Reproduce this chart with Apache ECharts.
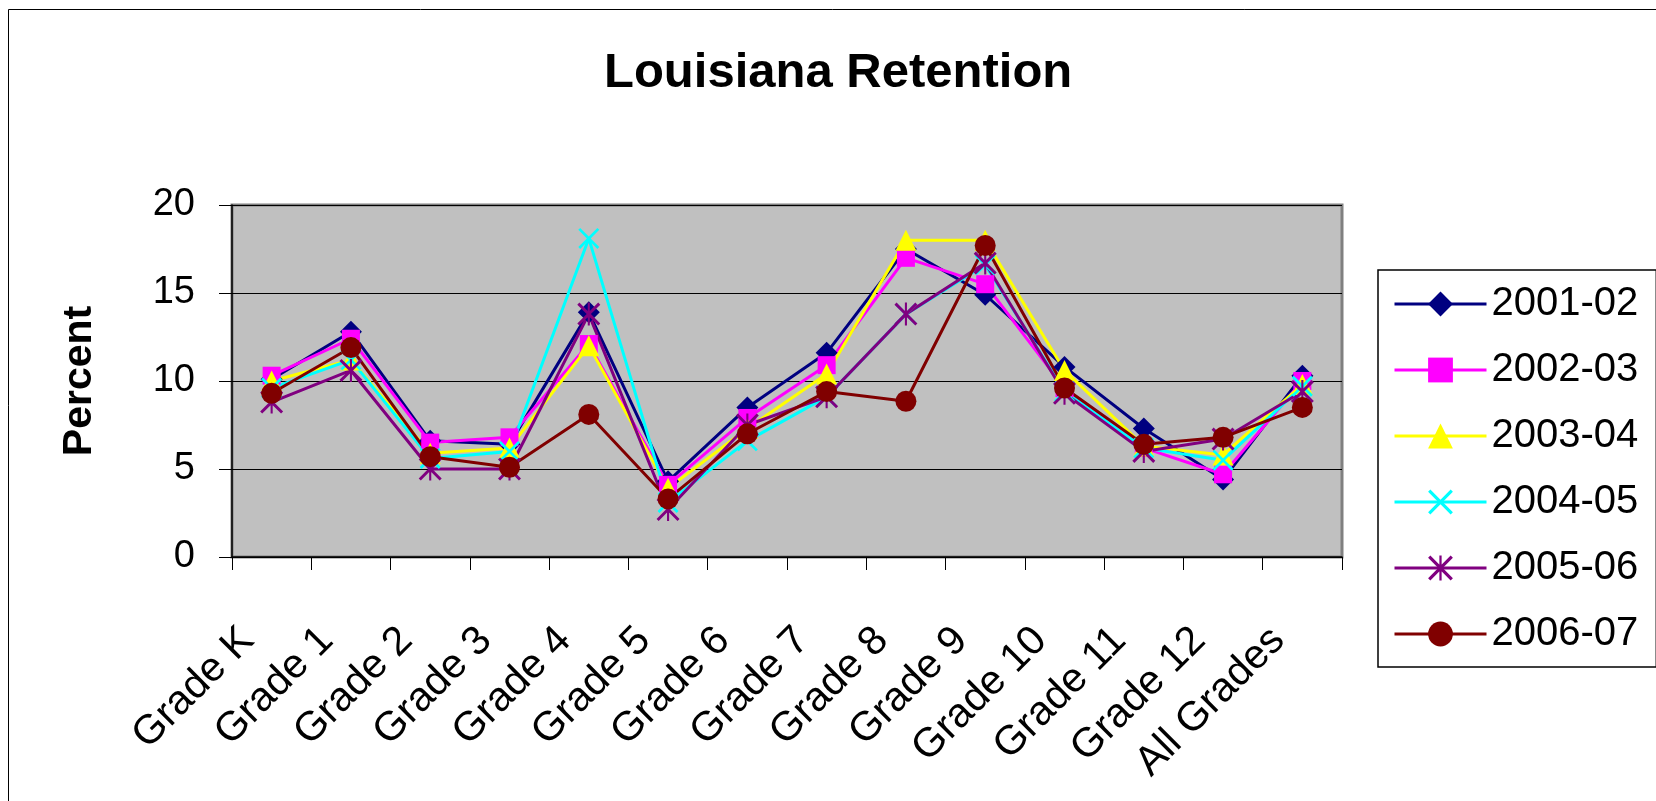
<!DOCTYPE html>
<html>
<head>
<meta charset="utf-8">
<title>Louisiana Retention</title>
<script src="https://cdn.jsdelivr.net/npm/echarts@6/dist/echarts.min.js"></script>
<style>
  html, body { margin: 0; padding: 0; background: #fff; }
  #main { width: 1656px; height: 801px; }
</style>
</head>
<body>
<div id="main"></div>
<script>
// x axis categories
var grades = ['Grade K', 'Grade 1', 'Grade 2', 'Grade 3', 'Grade 4', 'Grade 5', 'Grade 6',
  'Grade 7', 'Grade 8', 'Grade 9', 'Grade 10', 'Grade 11', 'Grade 12', 'All Grades'];
var years = ['2001-02', '2002-03', '2003-04', '2004-05', '2005-06', '2006-07'];

// retention percent per school year
var y2001 = [10.1, 12.8, 6.6, 6.4, 13.9, 4.3, 8.5, 11.6, 17.5, 14.9, 10.8, 7.3, 4.4, 10.3];
var y2002 = [10.3, 12.4, 6.5, 6.8, 12.1, 4.1, 7.9, 10.9, 17.0, 15.5, 9.6, 6.2, 4.7, 10.0];
var y2003 = [10.0, 11.2, 5.9, 6.2, 12.0, 3.9, 7.3, 10.4, 18.0, 18.0, 10.6, 6.3, 5.8, 9.8];
var y2004 = [9.6, 11.2, 5.6, 6.0, 18.1, 3.1, 6.6, 9.1, 13.8, 16.6, 9.4, 6.2, 5.5, 9.7];
var y2005 = [8.8, 10.6, 5.0, 5.0, 13.8, 2.7, 7.5, 9.1, 13.8, 16.7, 9.3, 6.0, 6.7, 9.4];
var y2006 = [9.3, 11.9, 5.7, 5.1, 8.1, 3.3, 7.0, 9.4, 8.85, 17.7, 9.6, 6.4, 6.8, 8.5];

// y axis scale
var yMin = 0;
var yMax = 20;
var yStep = 5;

var font = 'Liberation Sans, Arial, sans-serif';

// marker shapes for the x and star series
var xMark = 'path://M0,2 L2,0 L11,9 L20,0 L22,2 L13,11 L22,20 L20,22 L11,13 L2,22 L0,20 L9,11 Z';
var starMark = xMark + ' M10,0 L12,0 L12,22 L10,22 Z';

function lineSeries(name, data, color, symbol, size) {
  return {
    name: name,
    type: 'line',
    data: data,
    symbol: symbol,
    symbolSize: size,
    showSymbol: true,
    lineStyle: { color: color, width: 3 },
    itemStyle: { color: color, borderWidth: 0 },
    emphasis: { disabled: true }
  };
}

var myChart = echarts.init(document.getElementById('main'));
myChart.setOption({
  animation: false,
  backgroundColor: '#fff',
  textStyle: { fontFamily: font },
  title: {
    text: 'Louisiana Retention',
    left: 604,
    top: 49,
    padding: 0,
    textStyle: { color: '#000', fontSize: 49, fontWeight: 'bold', fontFamily: font }
  },
  graphic: [
    {
      type: 'rect',
      shape: { x: 8.5, y: 9.5, width: 1700, height: 900 },
      style: { fill: 'none', stroke: '#000', lineWidth: 1 },
      silent: true
    }
  ],
  legend: {
    orient: 'vertical',
    left: 1378,
    top: 270,
    padding: [14, 18, 13, 15],
    itemWidth: 92,
    itemHeight: 31,
    itemGap: 26,
    borderColor: '#000',
    borderWidth: 1.5,
    backgroundColor: '#fff',
    lineStyle: { width: 3 },
    textStyle: { color: '#000', fontSize: 40, fontFamily: font },
    data: years
  },
  grid: {
    left: 232,
    top: 205,
    right: 314,
    bottom: 244,
    show: true,
    backgroundColor: '#C0C0C0',
    borderColor: '#808080',
    borderWidth: 3
  },
  xAxis: {
    type: 'category',
    data: grades,
    boundaryGap: true,
    axisLine: { lineStyle: { color: '#000', width: 1.5 } },
    axisTick: { show: true, interval: 0, length: 13, lineStyle: { color: '#000', width: 1 } },
    axisLabel: {
      interval: 0,
      rotate: 45,
      margin: 53,
      padding: [0, 34, 0, 0],
      color: '#000',
      fontSize: 41,
      fontFamily: font
    },
    splitLine: { show: false }
  },
  yAxis: {
    type: 'value',
    min: yMin,
    max: yMax,
    interval: yStep,
    name: 'Percent',
    nameLocation: 'middle',
    nameRotate: 90,
    nameGap: 132,
    nameTextStyle: { color: '#000', fontSize: 41, fontWeight: 'bold', fontFamily: font },
    axisLine: { show: true, lineStyle: { color: '#000', width: 1.5 } },
    axisTick: { show: true, length: 13, lineStyle: { color: '#000', width: 1 } },
    axisLabel: { color: '#000', fontSize: 38, margin: 37, fontFamily: font },
    splitLine: { show: true, lineStyle: { color: '#000', width: 1.2 } }
  },
  series: [
    lineSeries(years[0], y2001, '#000080', 'diamond', 22),
    lineSeries(years[1], y2002, '#FF00FF', 'rect', 18),
    lineSeries(years[2], y2003, '#FFFF00', 'triangle', 21),
    lineSeries(years[3], y2004, '#00FFFF', xMark, 21),
    lineSeries(years[4], y2005, '#800080', starMark, 23),
    lineSeries(years[5], y2006, '#800000', 'circle', 21)
  ]
});
</script>
</body>
</html>
